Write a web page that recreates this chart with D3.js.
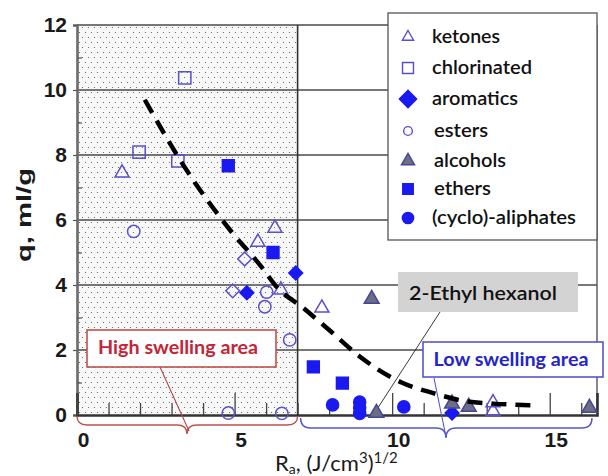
<!DOCTYPE html>
<html>
<head>
<meta charset="utf-8">
<script src="https://cdn.jsdelivr.net/npm/d3@7"></script>
<style>
  html, body { margin: 0; padding: 0; background: #ffffff; }
  svg { display: block; }
</style>
</head>
<body>
<svg id="chart" width="608" height="476"></svg>
<script>
// ---------------- data ----------------
const xTicksMajor = [0, 5, 10, 15];
const xTicksMinor = [1, 2, 3, 4, 6, 7, 8, 9, 11, 12, 13, 14, 16];
const yTickLabels = [0, 2, 4, 6, 8, 10, 12];
const yTicksMinor = [1, 3, 5, 7, 9, 11];
const gridY = [2, 4, 6, 8, 10];

const ketonesX = [1.43, 5.74, 6.28, 6.47, 7.77, 13.2, 13.2];
const ketonesY = [7.45, 5.32, 5.75, 3.85, 3.29, 0.38, 0.12];
const chlorinatedX = [1.97, 3.2, 3.42];
const chlorinatedY = [8.09, 7.82, 10.37];
const aromaticsX = [5.39, 6.94, 11.9];
const aromaticsY = [3.76, 4.37, 0.06];
const otherOpenDiamondX = [4.94, 5.32];
const otherOpenDiamondY = [3.82, 4.8];
const estersX = [1.8, 5.96, 6.02, 6.75, 4.8, 6.5];
const estersY = [5.65, 3.33, 3.78, 2.31, 0.06, 0.05];
const alcoholsX = [9.35, 9.5, 11.9, 12.43, 16.26];
const alcoholsY = [3.57, 0.06, 0.35, 0.25, 0.22];
const ethersX = [4.8, 6.22, 7.5, 8.42];
const ethersY = [7.67, 5.0, 1.48, 0.98];
const aliphatesX = [8.11, 8.97, 8.97, 8.97, 10.37];
const aliphatesY = [0.31, 0.4, 0.22, 0.05, 0.25];

const trendX = [2.15, 3.4, 4.85, 5.86, 6.33, 7.17, 8.02, 8.97, 10.3, 11.28, 12.35, 13.2, 14.5];
const trendY = [9.7, 7.65, 5.7, 4.55, 3.95, 3.3, 2.6, 1.8, 1.0, 0.68, 0.42, 0.35, 0.3];

const legendLabels = ["ketones", "chlorinated", "aromatics", "esters", "alcohols", "ethers", "(cyclo)-aliphates"];
const highAreaLimit = 7;   // R_a boundary of the dotted "high swelling" area
const yTitle = "q, ml/g";
const highLabel = "High swelling area";
const lowLabel = "Low swelling area";
const noteLabel = "2-Ethyl hexanol";
const noteX = 9.5, noteY = 0.06;

// ---------------- layout ----------------
const svg = d3.select("#chart");
const x = d3.scaleLinear().domain([0, 16.5]).range([77, 597]);
const y = d3.scaleLinear().domain([0, 12]).range([415, 25]);

const openCol = "#5a4fcf";
const fillCol = "#1a1af0";
const grayFill = "#6e6e82";
const grayStroke = "#45459a";

// dotted pattern
const defs = svg.append("defs");
const pat = defs.append("pattern").attr("id", "dots").attr("patternUnits", "userSpaceOnUse")
  .attr("width", 6).attr("height", 10);
pat.append("rect").attr("width", 6).attr("height", 10).attr("fill", "#f8f8f8");
pat.append("circle").attr("cx", 1.5).attr("cy", 2.5).attr("r", 0.6).attr("fill", "#555");
pat.append("circle").attr("cx", 4.5).attr("cy", 7.5).attr("r", 0.6).attr("fill", "#555");

// dotted high-swelling region
svg.append("rect")
  .attr("x", x(0)).attr("y", y(12))
  .attr("width", x(highAreaLimit) - x(0)).attr("height", y(0) - y(12))
  .attr("fill", "url(#dots)");

// gridlines
svg.append("g").selectAll("line").data(gridY).join("line")
  .attr("x1", x(0)).attr("x2", x(16.5))
  .attr("y1", d => y(d)).attr("y2", d => y(d))
  .attr("stroke", "#4a4a4a").attr("stroke-width", 1.4);

// frame
svg.append("line").attr("x1", x(0)).attr("x2", x(16.5)).attr("y1", y(12)).attr("y2", y(12))
  .attr("stroke", "#777").attr("stroke-width", 2);
svg.append("line").attr("x1", x(16.5)).attr("x2", x(16.5)).attr("y1", y(12)).attr("y2", y(0))
  .attr("stroke", "#555").attr("stroke-width", 1.4);
svg.append("line").attr("x1", x(highAreaLimit)).attr("x2", x(highAreaLimit)).attr("y1", y(12)).attr("y2", y(0))
  .attr("stroke", "#333").attr("stroke-width", 1.6);

// y axis
const yAxis = svg.append("g").attr("transform", `translate(${x(0)},0)`)
  .call(d3.axisLeft(y).tickValues(yTickLabels).tickSize(4).tickPadding(6));
yAxis.select(".domain").attr("stroke", "#6a6a6a").attr("stroke-width", 2.6);
yAxis.selectAll(".tick line").attr("stroke", "#555").attr("stroke-width", 1.2);
yAxis.selectAll(".tick text").attr("font-family", "Liberation Sans, Arial, sans-serif")
  .attr("font-weight", "bold").attr("font-size", 21).attr("fill", "#1a1a1a");
const yMinor = svg.append("g").attr("transform", `translate(${x(0)},0)`)
  .call(d3.axisLeft(y).tickValues(yTicksMinor).tickSize(-5).tickFormat(""));
yMinor.select(".domain").remove();
yMinor.selectAll(".tick line").attr("stroke", "#555").attr("stroke-width", 1.2);

// x axis (inward ticks)
const xMinor = svg.append("g").attr("transform", `translate(0,${y(0)})`)
  .call(d3.axisBottom(x).tickValues(xTicksMinor).tickSize(-12).tickFormat(""));
xMinor.select(".domain").remove();
xMinor.selectAll(".tick line").attr("stroke", "#444").attr("stroke-width", 1.3);
const xAxis = svg.append("g").attr("transform", `translate(0,${y(0)})`)
  .call(d3.axisBottom(x).tickValues(xTicksMajor).tickSize(-22).tickPadding(17));
xAxis.select(".domain").attr("stroke", "#333").attr("stroke-width", 2.6);
xAxis.selectAll(".tick line").attr("stroke", "#444").attr("stroke-width", 1.3);
xAxis.selectAll(".tick text").attr("font-family", "Liberation Sans, Arial, sans-serif")
  .attr("font-weight", "bold").attr("font-size", 21).attr("fill", "#1a1a1a").attr("dx", 6);

// markers
function sym(type, size) { return d3.symbol().type(type).size(size)(); }
const series = [
  { xs: ketonesX, ys: ketonesY, type: d3.symbolTriangle, size: 85, fill: "#ffffff", fo: 0, stroke: openCol },
  { xs: chlorinatedX, ys: chlorinatedY, type: d3.symbolSquare, size: 150, fill: "#ffffff", fo: 0, stroke: openCol },
  { xs: otherOpenDiamondX, ys: otherOpenDiamondY, type: d3.symbolSquare, size: 95, fill: "#ffffff", fo: 0, stroke: openCol, rot: 45 },
  { xs: estersX, ys: estersY, type: d3.symbolCircle, size: 120, fill: "#ffffff", fo: 0, stroke: openCol },
  { xs: ethersX, ys: ethersY, type: d3.symbolSquare, size: 140, fill: fillCol, fo: 1, stroke: fillCol },
  { xs: aliphatesX, ys: aliphatesY, type: d3.symbolCircle, size: 115, fill: fillCol, fo: 1, stroke: fillCol },
  { xs: aromaticsX, ys: aromaticsY, type: d3.symbolSquare, size: 95, fill: fillCol, fo: 1, stroke: fillCol, rot: 45 },
  { xs: alcoholsX, ys: alcoholsY, type: d3.symbolTriangle, size: 95, fill: grayFill, fo: 1, stroke: grayStroke },
];
series.forEach(s => {
  svg.append("g").selectAll("path").data(s.xs.map((v, i) => [v, s.ys[i]])).join("path")
    .attr("d", sym(s.type, s.size))
    .attr("transform", d => `translate(${x(d[0])},${y(d[1])}) rotate(${s.rot || 0})`)
    .attr("fill", s.fill).attr("fill-opacity", s.fo)
    .attr("stroke", s.stroke).attr("stroke-width", 1.5);
});

// dashed trend line
svg.append("path")
  .datum(trendX.map((v, i) => [v, trendY[i]]))
  .attr("d", d3.line().x(d => x(d[0])).y(d => y(d[1])).curve(d3.curveMonotoneX))
  .attr("fill", "none").attr("stroke", "#000").attr("stroke-width", 4.5)
  .attr("stroke-dasharray", "15,9");

// braces
function brace(x0, x1, y0, h, xm) {
  const r = 10;
  return `M${x0},${y0} Q${x0},${y0 + h / 2} ${x0 + r},${y0 + h / 2} L${xm - r},${y0 + h / 2} ` +
    `Q${xm},${y0 + h / 2} ${xm},${y0 + h} Q${xm},${y0 + h / 2} ${xm + r},${y0 + h / 2} ` +
    `L${x1 - r},${y0 + h / 2} Q${x1},${y0 + h / 2} ${x1},${y0}`;
}
const redCol = "#c0504d";
const blueCol = "#5555d0";
svg.append("path").attr("d", brace(x(0), x(highAreaLimit), 416, 18, 187))
  .attr("fill", "none").attr("stroke", redCol).attr("stroke-width", 1.4);
svg.append("path").attr("d", brace(x(highAreaLimit) + 3, 592, 418, 20, 446))
  .attr("fill", "none").attr("stroke", blueCol).attr("stroke-width", 1.4);

// high swelling area label
svg.append("line").attr("x1", 160).attr("y1", 367).attr("x2", 189).attr("y2", 431)
  .attr("stroke", "#b04848").attr("stroke-width", 1.1);
svg.append("rect").attr("x", 87).attr("y", 330).attr("width", 189).attr("height", 37)
  .attr("fill", "#fff").attr("stroke", redCol).attr("stroke-width", 1.6);
svg.append("text").attr("x", 178).attr("y", 354).attr("text-anchor", "middle")
  .attr("font-family", "Lato, Open Sans, sans-serif").attr("font-weight", "bold").attr("font-size", 18)
  .attr("fill", "#c42436").attr("textLength", 160).attr("lengthAdjust", "spacingAndGlyphs").text(highLabel);

// low swelling area label
svg.append("line").attr("x1", 434).attr("y1", 378).attr("x2", 446).attr("y2", 437)
  .attr("stroke", blueCol).attr("stroke-width", 1.1);
svg.append("rect").attr("x", 423).attr("y", 342).attr("width", 180).attr("height", 35)
  .attr("fill", "#fff").attr("stroke", blueCol).attr("stroke-width", 1.6);
svg.append("text").attr("x", 511).attr("y", 366).attr("text-anchor", "middle")
  .attr("font-family", "Lato, Open Sans, sans-serif").attr("font-weight", "bold").attr("font-size", 18)
  .attr("fill", "#2424c8").attr("textLength", 155).attr("lengthAdjust", "spacingAndGlyphs").text(lowLabel);

// 2-Ethyl hexanol note
svg.append("line").attr("x1", 440).attr("y1", 312).attr("x2", x(noteX) + 2).attr("y2", y(noteY) - 6)
  .attr("stroke", "#222").attr("stroke-width", 0.9);
svg.append("rect").attr("x", 398).attr("y", 272).attr("width", 180).attr("height", 40)
  .attr("fill", "#d3d3d3");
svg.append("text").attr("x", 483).attr("y", 300).attr("text-anchor", "middle")
  .attr("font-family", "Lato, Open Sans, sans-serif").attr("font-weight", 600).attr("font-size", 19)
  .attr("fill", "#111").attr("textLength", 148).attr("lengthAdjust", "spacingAndGlyphs").text(noteLabel);

// legend
const lg = svg.append("g");
lg.append("rect").attr("x", 388).attr("y", 13).attr("width", 209).attr("height", 227)
  .attr("fill", "#fff").attr("stroke", "#555").attr("stroke-width", 1.3);
const legendY = [37, 68, 99, 131, 161, 189, 218];
const legendSym = [
  { type: d3.symbolTriangle, size: 55, fill: "#fff", stroke: openCol },
  { type: d3.symbolSquare, size: 120, fill: "#fff", stroke: openCol },
  { type: d3.symbolSquare, size: 150, fill: fillCol, stroke: fillCol, rot: 45 },
  { type: d3.symbolCircle, size: 60, fill: "#fff", stroke: openCol },
  { type: d3.symbolTriangle, size: 75, fill: grayFill, stroke: grayStroke },
  { type: d3.symbolSquare, size: 110, fill: fillCol, stroke: fillCol },
  { type: d3.symbolCircle, size: 100, fill: fillCol, stroke: fillCol },
];
const legendTextX = [432, 432, 432, 434, 434, 434, 432];
const legendTextW = [68, 100, 86, 54, 72, 57, 144];
legendLabels.forEach((lab, i) => {
  const s = legendSym[i];
  lg.append("path").attr("d", sym(s.type, s.size))
    .attr("transform", `translate(408,${legendY[i]}) rotate(${s.rot || 0})`)
    .attr("fill", s.fill).attr("stroke", s.stroke).attr("stroke-width", 1.4);
  lg.append("text").attr("x", legendTextX[i]).attr("y", legendY[i] + 6)
    .attr("font-family", "Lato, Open Sans, sans-serif").attr("font-size", 19).attr("font-weight", 600)
    .attr("fill", "#111").attr("textLength", legendTextW[i]).attr("lengthAdjust", "spacingAndGlyphs")
    .text(lab);
});

// axis titles
svg.append("text").attr("transform", "translate(31,215) rotate(-90)")
  .attr("text-anchor", "middle").attr("font-family", "Liberation Sans, Arial, sans-serif")
  .attr("font-weight", "bold").attr("font-size", 21).attr("fill", "#1a1a1a")
  .attr("textLength", 94).attr("lengthAdjust", "spacingAndGlyphs").text(yTitle);

const xt = svg.append("text").attr("x", 275).attr("y", 471)
  .attr("font-family", "Lato, Open Sans, sans-serif").attr("font-size", 22).attr("fill", "#1a1a1a");
xt.append("tspan").text("R");
xt.append("tspan").attr("font-size", 14).attr("dy", 3).text("a");
xt.append("tspan").attr("dy", -3).text(", (J/cm");
xt.append("tspan").attr("font-size", 15).attr("dy", -8).text("3");
xt.append("tspan").attr("dy", 8).text(")");
xt.append("tspan").attr("font-size", 15).attr("dy", -8).text("1/2");
</script>
</body>
</html>
